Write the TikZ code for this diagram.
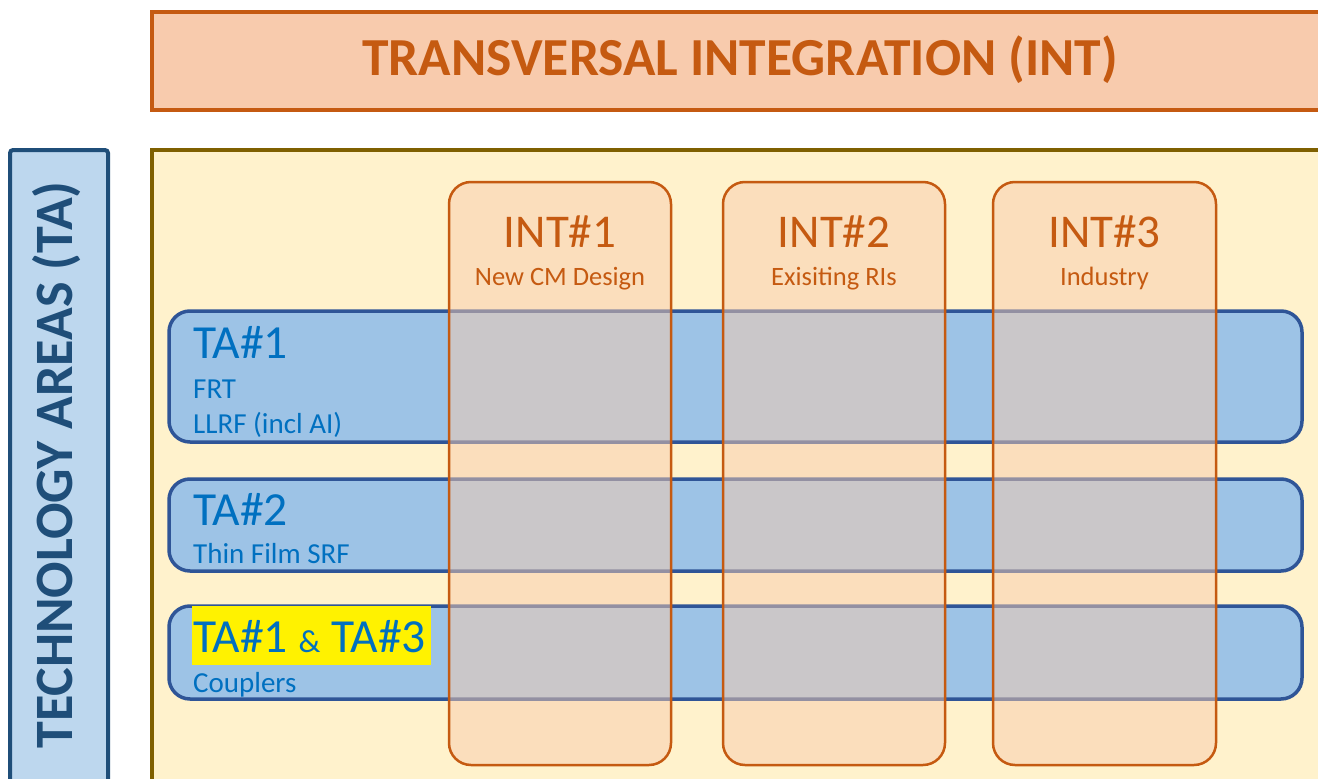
\documentclass[tikz,border=0pt]{standalone}
\usepackage{fontspec}
\setmainfont{Carlito}
\definecolor{intdark}{HTML}{C55A11}
\definecolor{intfill}{HTML}{F8CBAD}
\definecolor{cream}{HTML}{FFF2CC}
\definecolor{olive}{HTML}{7F6000}
\definecolor{tadark}{HTML}{1F4E79}
\definecolor{tafillL}{HTML}{BDD7EE}
\definecolor{tabar}{HTML}{9DC3E6}
\definecolor{taborder}{HTML}{2F5597}
\definecolor{tatext}{HTML}{0070C0}
\tikzset{
  banner/.style={draw=intdark, line width=4pt, fill=intfill, inner sep=0},
  panel/.style={draw=olive, line width=4pt, fill=cream, inner sep=0},
  sidebox/.style={draw=tadark, line width=4pt, fill=tafillL, inner sep=0, rounded corners=3pt},
  tabox/.style={draw=taborder, line width=3.5pt, fill=tabar, rounded corners=21pt, inner sep=0},
  colbox/.style={draw=intdark, line width=2.5pt, fill=intfill, fill opacity=0.5, draw opacity=1, rounded corners=22pt, inner sep=0},
  coltitle/.style={text=intdark, font=\fontsize{47}{47}\selectfont, anchor=base, inner sep=0},
  colsub/.style={text=intdark, font=\fontsize{26.5}{26.5}\selectfont, anchor=base, inner sep=0},
  tatitle/.style={text=tatext, font=\fontsize{47.5}{47.5}\selectfont, anchor=base west, inner sep=0},
  tasub/.style={text=tatext, font=\fontsize{29}{29}\selectfont, anchor=base west, inner sep=0},
}
\begin{document}
\begin{tikzpicture}[x=1pt,y=-1pt]
\useasboundingbox (0,0) rectangle (1318,779);
\begin{scope}
\clip (0,0) rectangle (1318,779);
% banner
\node[banner, minimum width=1188pt, minimum height=98pt] (int) at (746,61) {};
\node[text=intdark, font=\bfseries\fontsize{53.5}{53.5}\selectfont, anchor=base, inner sep=0] (inttext) at (740,75) {TRANSVERSAL INTEGRATION (INT)};
% main panel
\node[panel, minimum width=1190pt, minimum height=650pt] (panel) at (747,475) {};
% side box
\node[sidebox, minimum width=98pt, minimum height=650pt] (side) at (59,475) {};
\node[text=tadark, font=\bfseries\fontsize{54}{54}\selectfont, rotate=90, anchor=base, inner sep=0] (sidetext) at (72,465) {TECHNOLOGY AREAS (TA)};
% TA bars
\node[tabox, minimum width=1133pt, minimum height=131pt] (ta1) at (735.5,376.5) {};
\node[tabox, minimum width=1133pt, minimum height=92pt] (ta2) at (735.5,525) {};
\node[tabox, minimum width=1133pt, minimum height=93pt] (ta3) at (735.5,652.5) {};
% TA texts
\node[tatitle] (ta1t) at (193,358) {TA\#1};
\node[tasub] (ta1a) at (193,398) {FRT};
\node[tasub] (ta1b) at (193,433) {LLRF (incl AI)};
\node[tatitle] (ta2t) at (193,525) {TA\#2};
\node[tasub] (ta2a) at (193,563) {Thin Film SRF};
\node[fill=yellow, anchor=north west, inner sep=0, minimum width=239pt, minimum height=59pt] (hl) at (192,606) {};
\node[tatitle] (ta3t) at (193,652) {TA\#1 {\fontsize{32}{32}\selectfont\&} TA\#3};
\node[tasub] (ta3a) at (193,692) {Couplers};
% INT columns
\node[colbox, minimum width=222pt, minimum height=583pt] (c1) at (560,473.5) {};
\node[colbox, minimum width=222pt, minimum height=583pt] (c2) at (834,473.5) {};
\node[colbox, minimum width=223pt, minimum height=583pt] (c3) at (1104.5,473.5) {};
\node[coltitle] (c1t) at (560,247) {INT\#1};
\node[colsub] (c1s) at (560,285) {New CM Design};
\node[coltitle] (c2t) at (834,247) {INT\#2};
\node[colsub] (c2s) at (834,285) {Exisiting RIs};
\node[coltitle] (c3t) at (1104.5,247) {INT\#3};
\node[colsub] (c3s) at (1104.5,285) {Industry};
\end{scope}
\end{tikzpicture}
\end{document}
